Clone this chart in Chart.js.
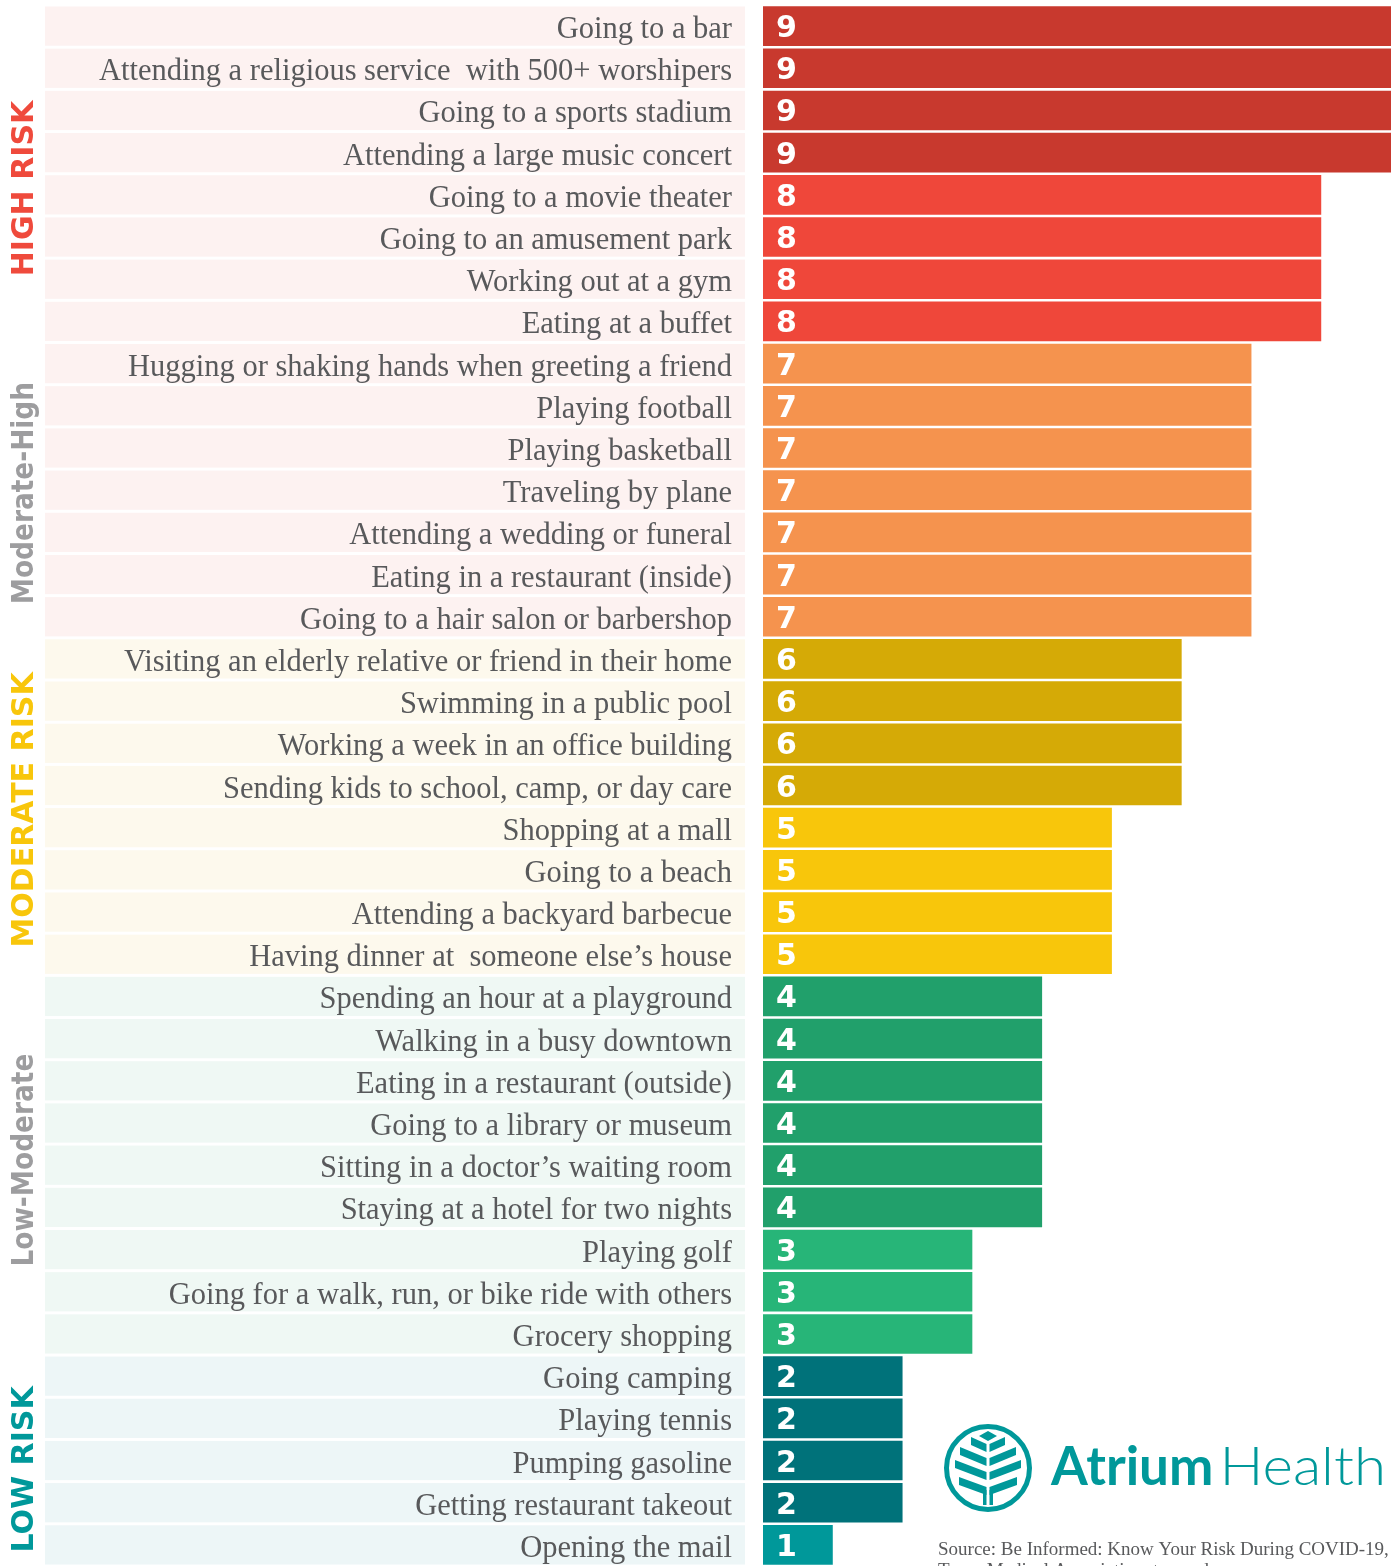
<!DOCTYPE html>
<html>
<head>
<meta charset="utf-8">
<script src="https://cdn.jsdelivr.net/npm/chart.js@4.4.1/dist/chart.umd.min.js"></script>
<style>
  html, body { margin: 0; padding: 0; background: #fff; overflow: hidden; }
  #wrap { position: relative; width: 1393px; height: 1566px; }
</style>
</head>
<body>
<div id="wrap"><canvas id="risk"></canvas></div>
<script>
// activities, top to bottom
const activities = [
  "Going to a bar",
  "Attending a religious service  with 500+ worshipers",
  "Going to a sports stadium",
  "Attending a large music concert",
  "Going to a movie theater",
  "Going to an amusement park",
  "Working out at a gym",
  "Eating at a buffet",
  "Hugging or shaking hands when greeting a friend",
  "Playing football",
  "Playing basketball",
  "Traveling by plane",
  "Attending a wedding or funeral",
  "Eating in a restaurant (inside)",
  "Going to a hair salon or barbershop",
  "Visiting an elderly relative or friend in their home",
  "Swimming in a public pool",
  "Working a week in an office building",
  "Sending kids to school, camp, or day care",
  "Shopping at a mall",
  "Going to a beach",
  "Attending a backyard barbecue",
  "Having dinner at  someone else\u2019s house",
  "Spending an hour at a playground",
  "Walking in a busy downtown",
  "Eating in a restaurant (outside)",
  "Going to a library or museum",
  "Sitting in a doctor\u2019s waiting room",
  "Staying at a hotel for two nights",
  "Playing golf",
  "Going for a walk, run, or bike ride with others",
  "Grocery shopping",
  "Going camping",
  "Playing tennis",
  "Pumping gasoline",
  "Getting restaurant takeout",
  "Opening the mail"
];

const riskScores = [9, 9, 9, 9, 8, 8, 8, 8, 7, 7, 7, 7, 7, 7, 7, 6, 6, 6, 6, 5, 5, 5, 5,
                    4, 4, 4, 4, 4, 4, 3, 3, 3, 2, 2, 2, 2, 1];

// risk groups: name, first row, last row, label center (row units)
const groupNames  = ["HIGH RISK", "Moderate-High", "MODERATE RISK", "Low-Moderate", "LOW RISK"];
const groupFirst  = [0, 8, 15, 23, 32];
const groupLast   = [7, 14, 22, 31, 36];
const groupCenter = [3.85, 11.07, 18.58, 26.88, 34.21];

const groupTextColors = ["#ef4a3c", "#9d9d9f", "#f8c60b", "#9d9d9f", "#00989a"];
const groupStretch = [1, 0.88, 1, 0.88, 1];
const groupBandColors = ["#fdf2f1", "#fdf2f1", "#fdf9ed", "#eff8f4", "#edf6f7"];

const scoreColors = { 9: "#c8392e", 8: "#ef473a", 7: "#f5934e", 6: "#d5aa06", 5: "#f8c60b",
                      4: "#21a06b", 3: "#27b578", 2: "#00727a", 1: "#00989a" };

function groupOf(i) {
  for (let g = 0; g < groupFirst.length; g++) {
    if (i >= groupFirst[g] && i <= groupLast[g]) return g;
  }
  return 0;
}

// label bands, activity names and vertical group titles
const bandPlugin = {
  id: 'bands',
  beforeDatasetsDraw(chart) {
    const ctx = chart.ctx;
    const y = chart.scales.y;
    const pitch = Math.abs(y.getPixelForValue(1) - y.getPixelForValue(0));
    ctx.save();
    ctx.font = "30.5px 'Liberation Serif'";
    ctx.textAlign = 'right';
    ctx.textBaseline = 'alphabetic';
    chart.data.labels.forEach((lab, i) => {
      const cy = y.getPixelForValue(i);
      ctx.fillStyle = groupBandColors[groupOf(i)];
      ctx.fillRect(45, cy - pitch * 0.465, 700, pitch * 0.93);
      ctx.fillStyle = '#58595b';
      ctx.fillText(lab, 732, cy + 12);
    });

    ctx.font = "bold 30px 'DejaVu Sans'";
    ctx.textAlign = 'center';
    ctx.textBaseline = 'middle';
    for (let g = 0; g < groupNames.length; g++) {
      const cy = y.getPixelForValue(groupCenter[g]);
      ctx.save();
      ctx.translate(25, cy);
      ctx.rotate(-Math.PI / 2);
      ctx.scale(groupStretch[g], 1);
      ctx.fillStyle = groupTextColors[g];
      ctx.fillText(groupNames[g], 0, 0);
      ctx.restore();
    }
    ctx.restore();
  }
};

const valuePlugin = {
  id: 'values',
  afterDatasetsDraw(chart) {
    const ctx = chart.ctx;
    const meta = chart.getDatasetMeta(0);
    ctx.save();
    ctx.font = "bold 30px 'DejaVu Sans'";
    ctx.fillStyle = '#ffffff';
    ctx.textAlign = 'left';
    ctx.textBaseline = 'alphabetic';
    meta.data.forEach((bar, i) => {
      ctx.fillText(String(riskScores[i]), bar.base + 13, bar.y + 11);
    });
    ctx.restore();
  }
};

function drawLogo(ctx) {
  const cx = 988, cy = 1468;
  const teal = '#00989a';
  ctx.save();
  ctx.strokeStyle = teal;
  ctx.fillStyle = teal;
  ctx.lineWidth = 5;
  ctx.beginPath();
  ctx.arc(cx, cy, 41.5, 0, Math.PI * 2);
  ctx.stroke();

  // top diamond
  ctx.beginPath();
  ctx.moveTo(cx, cy - 37);
  ctx.lineTo(cx + 9, cy - 32);
  ctx.lineTo(cx, cy - 27);
  ctx.lineTo(cx - 9, cy - 32);
  ctx.closePath();
  ctx.fill();

  // leaf veins: outer x, outer top, inner top
  const veins = [[17, -31, -24], [28, -21, -10], [33, -8, 4], [29, 9, 19]];
  const t = 8;
  veins.forEach(v => {
    [-1, 1].forEach(s => {
      ctx.beginPath();
      ctx.moveTo(cx + s * v[0], cy + v[1]);
      ctx.lineTo(cx + s * 1.5, cy + v[2]);
      ctx.lineTo(cx + s * 1.5, cy + v[2] + t);
      ctx.lineTo(cx + s * v[0], cy + v[1] + t);
      ctx.closePath();
      ctx.fill();
    });
  });
  // trunk
  ctx.fillRect(cx - 5, cy + 22, 3.5, 15);
  ctx.fillRect(cx + 1.5, cy + 22, 3.5, 15);

  ctx.textBaseline = 'alphabetic';
  ctx.textAlign = 'left';
  ctx.font = "bold 53px Lato";
  ctx.fillText('Atrium', 1051, 1485);
  const w = ctx.measureText('Atrium').width;
  ctx.save();
  ctx.translate(1051 + w + 6, 1485);
  ctx.scale(1.1, 1);
  ctx.font = "300 53px Lato";
  ctx.fillText('Health', 0, 0);
  ctx.restore();

  ctx.fillStyle = '#58595b';
  ctx.font = "19px 'Liberation Serif'";
  ctx.fillText('Source: Be Informed: Know Your Risk During COVID-19,', 938, 1555);
  ctx.fillText('Texas Medical Association, texmed.org', 938, 1576);
  ctx.restore();
}

const logoPlugin = {
  id: 'logo',
  afterDraw(chart) { drawLogo(chart.ctx); }
};

new Chart(document.getElementById('risk'), {
  type: 'bar',
  data: {
    labels: activities,
    datasets: [{
      data: riskScores,
      backgroundColor: riskScores.map(v => scoreColors[v]),
      borderWidth: 0,
      barPercentage: 0.94,
      categoryPercentage: 1.0
    }]
  },
  options: {
    indexAxis: 'y',
    responsive: true,
    maintainAspectRatio: false,
    animation: false,
    layout: { padding: { top: 5, bottom: 0, left: 0, right: 2 } },
    plugins: { legend: { display: false }, tooltip: { enabled: false } },
    scales: {
      x: { display: false, min: 0, max: 9 },
      y: {
        afterFit(scale) { scale.width = 763; },
        grid: { display: false, drawTicks: false },
        border: { display: false },
        ticks: { display: false, autoSkip: false }
      }
    }
  },
  plugins: [bandPlugin, valuePlugin, logoPlugin]
});
</script>
</body>
</html>
